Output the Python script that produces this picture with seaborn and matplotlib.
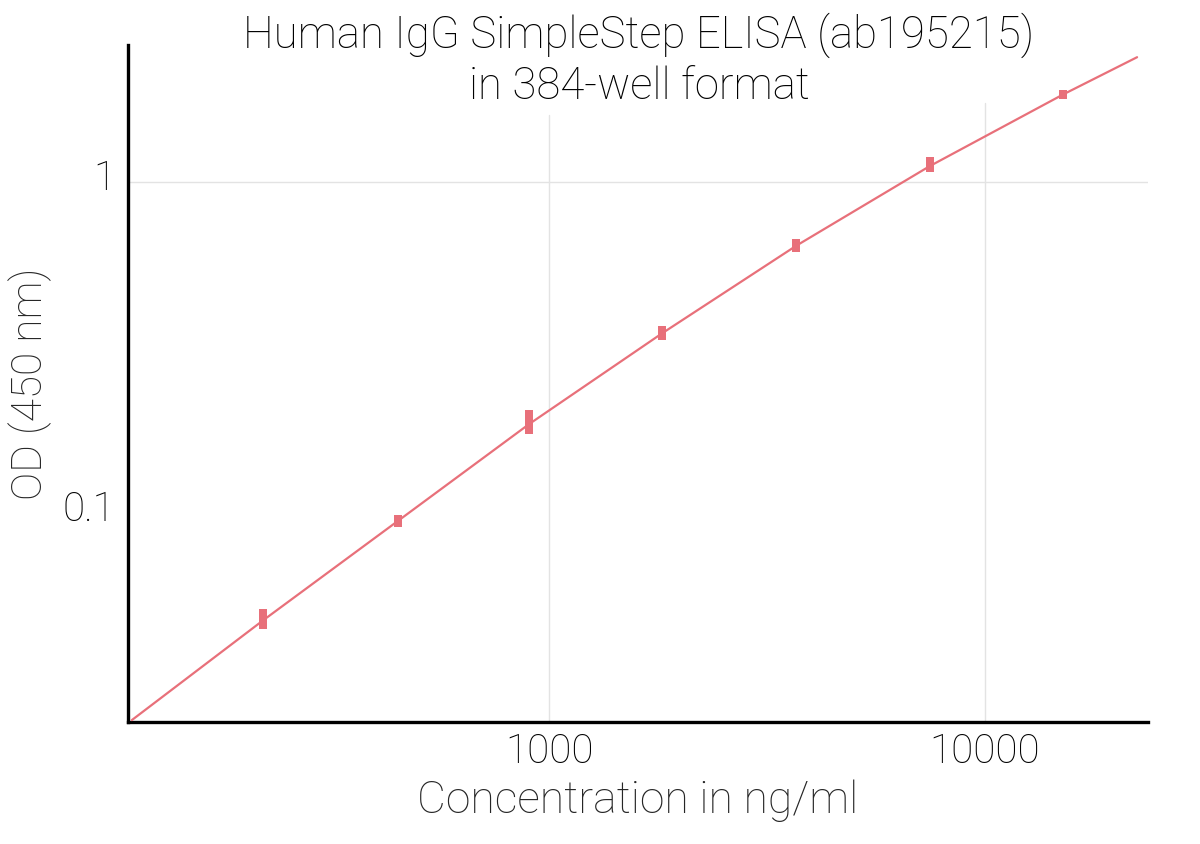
import matplotlib
matplotlib.use("Agg")
import matplotlib.pyplot as plt
import matplotlib.transforms as mtransforms
import seaborn as sns
import pandas as pd

# Replicate readings (three wells per standard)
conc_std = [221.2, 449.6, 899.6, 1819, 3691, 7464, 15110]
od_rep1 = [0.0500, 0.0961, 0.1995, 0.3591, 0.6556, 1.160, 1.855]
od_rep2 = [0.0479, 0.0948, 0.1891, 0.3517, 0.6451, 1.133, 1.845]
od_rep3 = [0.0460, 0.0935, 0.1785, 0.3444, 0.6353, 1.108, 1.835]

# Fitted standard curve
curve_conc = [110.4, 221.2, 449.6, 899.6, 1819, 3691, 7464, 15110, 22320]
curve_od = [0.02374, 0.0476, 0.0948, 0.1861, 0.3505, 0.6441, 1.120, 1.845, 2.390]

x_ticks = [1000, 10000]
x_tick_labels = ["1000", "10000"]
y_ticks = [0.1, 1]
y_tick_labels = ["0.1", "1"]

title = "Human IgG SimpleStep ELISA (ab195215)\nin 384-well format"
x_label = "Concentration in ng/ml"
y_label = "OD (450 nm)"

red = "#E8707A"
grid_col = "#e3e3e3"

sns.set_style("white")
plt.rcParams['font.family'] = ['Roboto', 'DejaVu Sans']
plt.rcParams['font.weight'] = 'light'
plt.rcParams['axes.labelweight'] = 'light'
plt.rcParams['text.color'] = 'black'

reps = pd.DataFrame({
    "conc": conc_std * 3,
    "od": od_rep1 + od_rep2 + od_rep3,
})
curve = pd.DataFrame({"conc": curve_conc, "od": curve_od})

fig = plt.figure(figsize=(12, 8.44), dpi=100)
ax = fig.add_axes([0.1067, 0.1445, 0.85, 0.802])

sns.lineplot(data=curve, x="conc", y="od", color=red, linewidth=1.6, ax=ax, zorder=3)
sns.scatterplot(data=reps, x="conc", y="od", color=red, marker="s", s=34,
                edgecolor="none", ax=ax, zorder=4)

ax.set_xscale("log")
ax.set_yscale("log")
ax.set_xlim(108.2, 23650)
ax.set_ylim(0.02342, 2.599)

# light grid: verticals at the decades (hidden under the title), one horizontal at OD 1
ax.axvline(1000, ymax=0.897, color=grid_col, linewidth=1, zorder=1)
ax.axvline(10000, ymax=0.914, color=grid_col, linewidth=1, zorder=1)
ax.axhline(1, color=grid_col, linewidth=1, zorder=1)

ax.set_xticks(x_ticks)
ax.set_xticklabels(x_tick_labels)
ax.set_yticks(y_ticks)
ax.set_yticklabels(y_tick_labels)
ax.minorticks_off()
ax.tick_params(axis="both", length=0, labelsize=29, colors="black")
ax.tick_params(axis="x", pad=7.5)
ax.tick_params(axis="y", pad=9)

# y tick labels sit a little above their value in the original
shift_up = mtransforms.ScaledTranslation(0, 8 / 100, fig.dpi_scale_trans)
for lbl in ax.get_yticklabels():
    lbl.set_transform(lbl.get_transform() + shift_up)

ax.set_xlabel(x_label, fontsize=32, fontweight="light", labelpad=6)
ax.set_ylabel(y_label, fontsize=30.5, fontweight="light", labelpad=7.5)

for side in ["top", "right"]:
    ax.spines[side].set_visible(False)
for side in ["left", "bottom"]:
    ax.spines[side].set_color("black")
    ax.spines[side].set_linewidth(2.4)

fig.text(0.5325, 0.985, title, ha="center", va="top", fontsize=31.5,
         fontweight="light", linespacing=1.22)

fig.savefig("out.png", dpi=100, facecolor="white")
